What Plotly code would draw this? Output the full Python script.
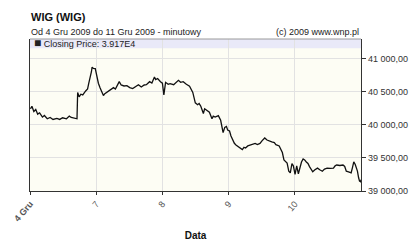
import plotly.graph_objects as go

# Trading-session position (0 = start of 4 Gru, 1 = 7 Gru, ... ) and closing price
session_pos = [0.007, 0.029, 0.058, 0.087, 0.116, 0.145, 0.188, 0.217, 0.261, 0.304,
               0.348, 0.406, 0.449, 0.493, 0.551, 0.594, 0.623, 0.667, 0.710, 0.720,
               0.743, 0.768, 0.797, 0.841, 0.870, 0.888, 0.913, 0.928, 0.938, 0.957,
               0.986, 1.010, 1.033, 1.058, 1.091, 1.109, 1.130, 1.159, 1.188, 1.228,
               1.261, 1.290, 1.319, 1.348, 1.377, 1.420, 1.464, 1.507, 1.551, 1.594,
               1.638, 1.681, 1.725, 1.758, 1.807, 1.841, 1.880, 1.899, 1.928, 1.971,
               2.000, 2.022, 2.048, 2.087, 2.116, 2.170, 2.203, 2.242, 2.275, 2.314,
               2.362, 2.410, 2.459, 2.478, 2.497, 2.532, 2.555, 2.580, 2.619, 2.638,
               2.677, 2.710, 2.749, 2.768, 2.797, 2.845, 2.880, 2.917, 2.942, 2.967,
               2.986, 3.014, 3.036, 3.062, 3.087, 3.111, 3.130, 3.159, 3.181, 3.207,
               3.232, 3.256, 3.290, 3.329, 3.362, 3.401, 3.435, 3.474, 3.507, 3.546,
               3.580, 3.619, 3.652, 3.691, 3.714, 3.764, 3.787, 3.812, 3.836, 3.859,
               3.884, 3.909, 3.932, 3.957, 3.978, 4.004, 4.029, 4.054, 4.077, 4.101,
               4.126, 4.149, 4.174, 4.199, 4.222, 4.246, 4.271, 4.304, 4.343, 4.377,
               4.416, 4.449, 4.488, 4.536, 4.584, 4.609, 4.633, 4.681, 4.728, 4.754,
               4.778, 4.812, 4.851, 4.870, 4.891, 4.913, 4.946, 4.964, 4.978, 4.993,
               5.000]
close = [40240, 40280, 40200, 40230, 40160, 40180, 40115, 40140, 40090, 40110,
         40080, 40095, 40080, 40105, 40090, 40130, 40110, 40100, 40090, 40487,
         40420, 40460, 40450, 40510, 40540, 40627, 40720, 40800, 40870, 40850,
         40846, 40720, 40627, 40557, 40465, 40440, 40470, 40490, 40520, 40543,
         40560, 40540, 40600, 40650, 40600, 40585, 40590, 40560, 40545, 40580,
         40604, 40570, 40600, 40604, 40650, 40630, 40720, 40680, 40697, 40650,
         40627, 40450, 40640, 40610, 40620, 40604, 40640, 40670, 40640, 40650,
         40610, 40581, 40488, 40420, 40330, 40302, 40320, 40280, 40170, 40240,
         40217, 40190, 40091, 40130, 40115, 40137, 40067, 39881, 39960, 39975,
         39920, 39905, 39830, 39765, 39720, 39695, 39680, 39671, 39640, 39625,
         39660, 39648, 39680, 39695, 39710, 39718, 39700, 39718, 39760, 39800,
         39770, 39750, 39740, 39730, 39700, 39680, 39640, 39580, 39470, 39438,
         39420, 39300, 39275, 39415, 39380, 39252, 39380, 39260, 39360, 39438,
         39485, 39470, 39438, 39415, 39368, 39330, 39290, 39320, 39345, 39320,
         39298, 39330, 39345, 39340, 39345, 39380, 39392, 39385, 39392, 39370,
         39298, 39290, 39275, 39350, 39440, 39400, 39300, 39200, 39150, 39140,
         39170]

day_ticks = [0, 1, 2, 3, 4]
day_labels = ["<b>4 Gru</b>", "7", "8", "9", "10"]
price_ticks = [39000, 39500, 40000, 40500, 41000]

FONT = "Liberation Sans"

fig = go.Figure()
fig.add_trace(go.Scatter(x=session_pos, y=close, mode="lines",
                         line=dict(color="#111111", width=1.3),
                         hoverinfo="skip", showlegend=False))

fig.update_layout(
    width=420, height=252,
    margin=dict(l=22, r=53, t=39, b=49),
    paper_bgcolor="white",
    plot_bgcolor="#fdfdf4",
    separators=", ",
    font=dict(family=FONT, size=9, color="#222222"),
    showlegend=False,
    xaxis=dict(range=[0, 5], tickvals=day_ticks, ticktext=day_labels,
               tickangle=-50, tickfont=dict(size=9, color="#555555"),
               showgrid=True, gridcolor="#e2e2e2", gridwidth=1,
               zeroline=False, showline=True, linecolor="#333333", linewidth=1.3,
               ticks="outside", ticklen=3, tickcolor="#333333",
               title=dict(text="<b>Data</b>", font=dict(size=10, color="#111111"),
                          standoff=9)),
    yaxis=dict(side="right", range=[39000, 41294], tickvals=price_ticks,
               tickformat=",.2f", tickfont=dict(size=9, color="#333333"),
               showgrid=True, gridcolor="#e2e2e2", gridwidth=1,
               zeroline=False, showline=True, linecolor="#333333", linewidth=1.3,
               mirror=True, ticks="outside", ticklen=4, tickcolor="#333333"),
    shapes=[
        dict(type="rect", xref="paper", yref="paper", x0=0, x1=1, y0=0.939, y1=1,
             fillcolor="#e9e9f8", line=dict(width=0), layer="below"),
        dict(type="line", xref="paper", yref="paper", x0=0, x1=1, y0=1, y1=1,
             line=dict(color="#9a9a9a", width=1)),
    ],
    annotations=[
        dict(text="<b>WIG (WIG)</b>", xref="paper", yref="paper", x=0, y=1.146,
             xanchor="left", yanchor="middle", xshift=-1, showarrow=False,
             font=dict(size=11, color="#111111")),
        dict(text="Od 4 Gru 2009 do 11 Gru 2009 - minutowy", xref="paper", yref="paper",
             x=0, y=1.043, xanchor="left", yanchor="middle", xshift=-1, showarrow=False,
             font=dict(size=9, color="#222222")),
        dict(text="(c) 2009 www.wnp.pl", xref="paper", yref="paper",
             x=1, y=1.043, xanchor="right", yanchor="middle", showarrow=False,
             font=dict(size=9, color="#222222")),
        dict(text="<span style='font-size:12px'>■</span> Closing Price: 3.917E4",
             xref="paper", yref="paper",
             x=0.006, y=0.972, xanchor="left", yanchor="middle", showarrow=False,
             font=dict(size=9, color="#222222")),
    ],
)

fig.write_html("out.html")
